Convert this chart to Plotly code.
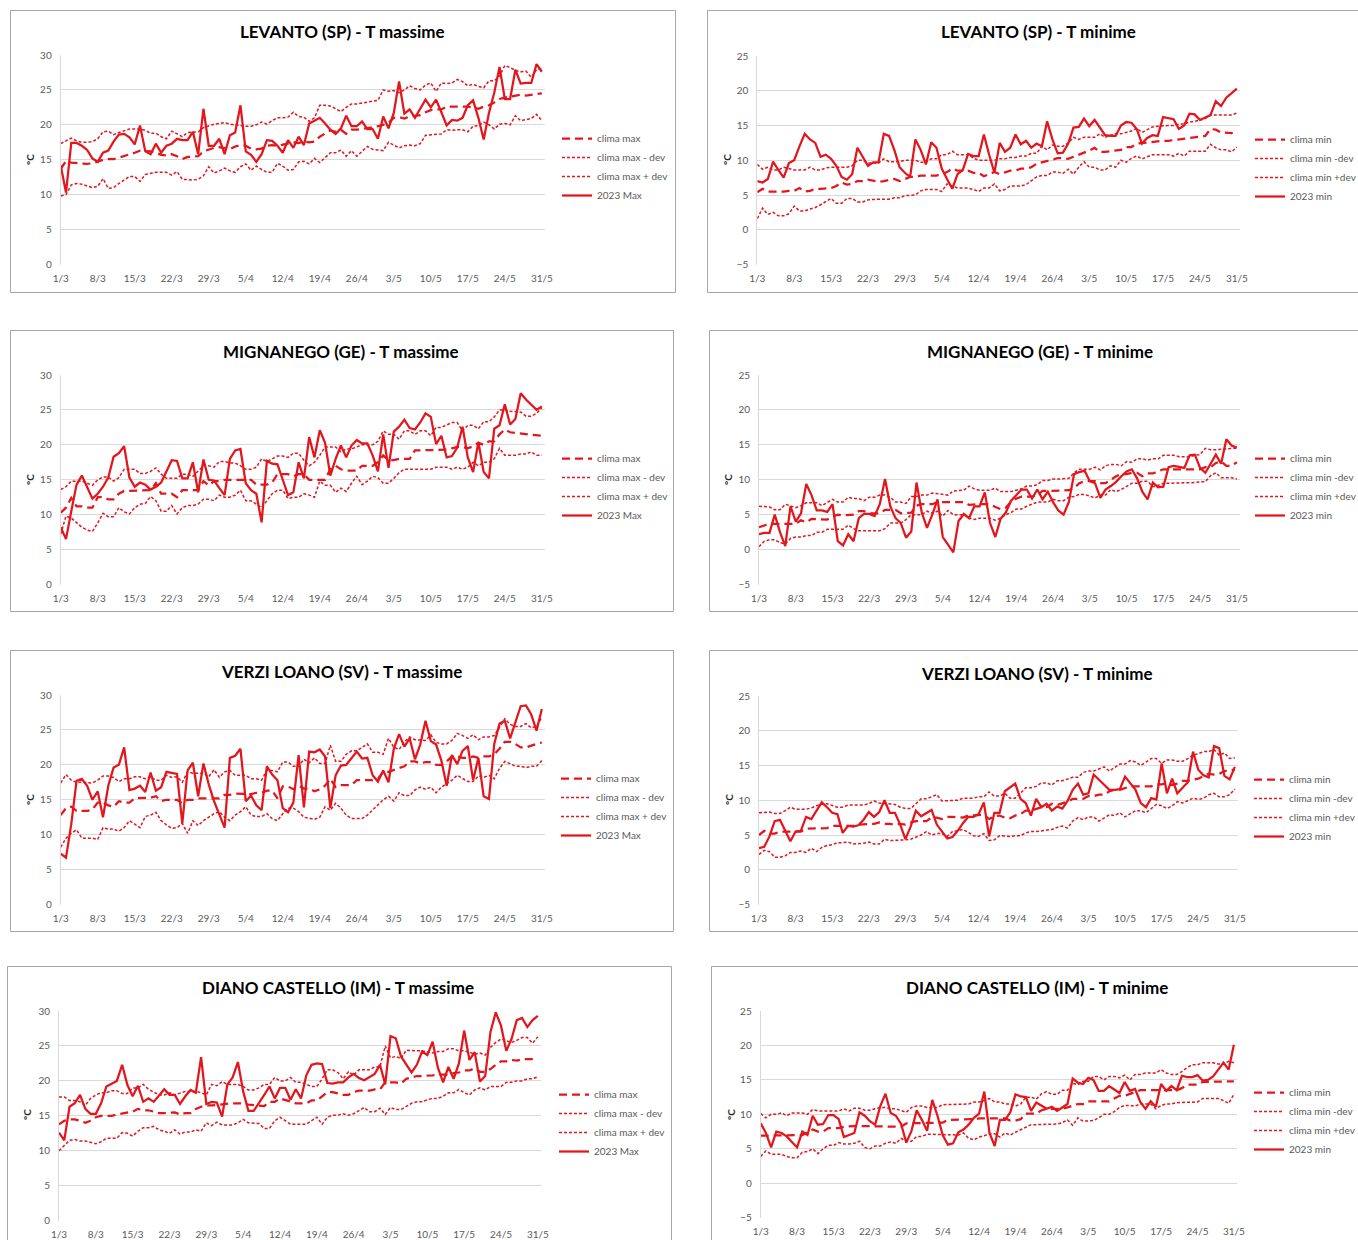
import plotly.graph_objects as go

W, H = 1358, 1240
RED = "#E3161D"
FONT = "Lato"
TICK_COLOR = "#595959"

# ---------------- categories ----------------
months = [("3", 31), ("4", 30), ("5", 31)]
dates = [f"{d}/{m}" for m, n in months for d in range(1, n + 1)]
tick_labels = dates[::7]          # 1/3, 8/3, ..., 31/5

# ---------------- LEVANTO (SP) ----------------
levanto_max_2023 = [
    14.2, 10.3, 17.4, 17.4, 17.0, 16.4, 15.2, 14.7, 16.0, 16.3,
    17.6, 18.6, 18.7, 18.2, 17.2, 19.9, 16.2, 15.8, 17.3, 16.0,
    17.0, 17.3, 18.0, 17.8, 17.8, 19.0, 15.8, 22.3, 17.0, 17.0,
    18.0, 15.8, 18.5, 18.9, 22.8, 16.2, 15.7, 14.7, 15.8, 17.8,
    17.7, 17.0, 16.0, 17.8, 16.7, 18.3, 17.1, 20.2, 20.6, 21.0,
    20.2, 19.3, 18.7, 19.5, 21.3, 19.8, 19.8, 20.5, 19.4, 19.4,
    18.0, 21.2, 19.5, 21.7, 26.2, 21.6, 22.2, 21.0, 22.3, 23.6,
    22.5, 23.6, 21.8, 19.9, 20.7, 20.6, 21.0, 22.8, 23.5, 21.0,
    17.9, 21.7, 24.6, 28.3, 23.7, 23.7, 27.9, 25.9, 26.0, 26.0,
    28.7, 27.6]
levanto_max_clima = [
    13.7, 14.8, 14.6, 14.5, 14.4, 14.4, 14.5, 14.8, 15.0, 15.1,
    15.1, 15.3, 15.5, 15.8, 16.0, 16.3, 16.3, 16.2, 16.0, 15.7,
    15.6, 15.8, 15.5, 15.1, 15.4, 15.5, 15.5, 16.2, 16.5, 16.7,
    16.8, 16.7, 16.5, 16.9, 17.1, 17.0, 16.6, 16.5, 16.6, 17.0,
    17.1, 17.0, 17.2, 17.3, 17.5, 17.4, 17.6, 17.5, 17.6, 18.3,
    18.8, 19.2, 19.0, 19.3, 18.7, 19.3, 19.3, 19.4, 19.5, 19.6,
    19.8, 20.0, 20.3, 21.0, 21.1, 20.9, 21.2, 21.3, 21.4, 21.8,
    22.1, 22.2, 22.2, 22.6, 22.6, 22.7, 22.7, 22.6, 22.5, 22.3,
    22.6, 22.8, 23.2, 23.7, 23.9, 24.0, 24.1, 24.3, 24.2, 24.3,
    24.4, 24.5]
levanto_max_plus = [
    17.3, 17.7, 18.1, 17.7, 17.5, 17.5, 17.6, 18.0, 19.0, 19.1,
    18.6, 18.9, 19.2, 19.4, 19.4, 19.4, 19.2, 18.8, 18.8, 18.3,
    18.0, 19.1, 18.7, 18.3, 18.9, 19.0, 19.0, 19.6, 19.9, 20.1,
    20.2, 20.3, 20.1, 20.0, 19.8, 19.8, 19.8, 20.0, 20.4, 20.1,
    20.6, 21.0, 21.0, 21.1, 21.8, 21.2, 21.1, 20.5, 21.0, 22.8,
    22.8, 22.7, 22.3, 21.9, 22.5, 23.0, 23.0, 23.1, 23.2, 23.4,
    23.5, 25.0, 24.8, 24.9, 24.6, 25.0, 25.6, 25.2, 25.0, 25.7,
    26.0, 24.8, 26.0, 25.9, 26.0, 26.5, 26.2, 25.6, 25.8, 25.5,
    25.3, 26.3, 26.3, 27.0, 28.5, 28.2, 27.8, 27.6, 27.7, 26.8,
    27.9, 28.0]
levanto_max_minus = [
    9.8, 10.0, 11.4, 11.6, 11.5, 11.2, 11.0, 11.2, 12.3, 10.9,
    11.0, 11.6, 12.1, 12.6, 12.6, 11.9, 12.9, 13.1, 13.2, 13.2,
    13.2, 12.8, 13.3, 12.2, 12.1, 12.1, 12.2, 12.7, 14.0, 13.1,
    13.4, 13.8, 13.4, 13.2, 14.0, 14.4, 13.5, 14.1, 13.6, 13.2,
    13.2, 14.5, 14.1, 13.5, 13.6, 14.7, 14.8, 14.4, 15.2, 14.6,
    15.3, 16.0, 16.0, 16.4, 15.5, 16.3, 15.5, 16.2, 16.9, 16.5,
    16.4, 16.3, 17.5, 17.1, 16.7, 17.0, 17.1, 17.0, 17.3, 18.5,
    18.6, 18.6, 18.7, 19.3, 19.2, 19.3, 19.3, 19.0, 19.8, 19.9,
    20.4, 20.0, 19.4, 20.1, 20.2, 20.0, 21.3, 20.6, 20.8, 20.9,
    21.5, 20.6]

levanto_min_2023 = [
    7.0, 6.8, 7.3, 9.8, 8.6, 7.5, 9.6, 10.0, 12.0, 13.8,
    13.0, 12.5, 10.5, 10.8, 10.2, 9.2, 7.6, 7.2, 8.0, 11.8,
    10.5, 9.2, 9.7, 9.7, 13.8, 13.5, 11.5, 9.0, 8.2, 7.6,
    13.0, 11.5, 9.4, 12.6, 11.8, 8.8, 7.3, 5.9, 8.0, 8.6,
    10.9, 10.6, 10.6, 13.7, 10.8, 8.2, 12.5, 11.2, 11.8, 13.7,
    12.3, 12.8, 11.8, 12.4, 12.0, 15.6, 13.0, 11.0, 11.1, 12.4,
    14.7, 14.8, 16.0, 14.9, 15.8, 14.6, 13.6, 13.5, 13.5, 15.0,
    15.5, 15.4, 14.5, 12.4, 13.2, 13.6, 13.5, 16.2, 16.1, 15.9,
    14.5, 15.0, 16.7, 16.6, 15.8, 16.2, 16.5, 18.5, 17.8, 19.0,
    19.7, 20.3]
levanto_min_clima = [
    5.4, 5.9, 5.5, 5.5, 5.4, 5.5, 5.6, 5.6, 6.0, 5.5,
    5.6, 5.9, 5.9, 5.9, 6.0, 6.3, 6.8, 6.5, 6.6, 7.0,
    7.0, 7.2, 7.0, 6.9, 7.0, 7.2, 7.3, 7.0, 7.3, 7.6,
    7.6, 7.8, 7.8, 7.8, 7.8, 8.0, 8.3, 8.8, 8.5, 8.5,
    8.5, 8.2, 8.2, 7.7, 8.0, 8.3, 8.0, 8.3, 8.5, 8.5,
    8.8, 8.8, 9.0, 9.5, 9.7, 9.9, 10.1, 10.3, 10.3, 10.2,
    10.5, 10.8, 11.0, 11.4, 11.8, 11.2, 11.2, 11.3, 11.4, 11.5,
    11.9, 11.9, 12.4, 12.5, 12.6, 12.7, 12.8, 12.8, 12.8, 12.9,
    13.0, 13.1, 13.2, 13.4, 13.5, 13.5, 14.5, 14.4, 14.0, 14.0,
    13.9, 14.4]
levanto_min_plus = [
    9.4, 8.7, 9.0, 8.6, 8.6, 9.0, 8.8, 8.6, 8.6, 8.6,
    9.0, 8.6, 8.6, 8.9, 9.0, 9.0, 9.0, 9.0, 9.2, 10.0,
    10.0, 9.6, 9.6, 9.6, 10.2, 9.8, 9.8, 9.8, 10.0, 10.0,
    10.0, 9.7, 9.7, 10.2, 10.2, 10.8, 10.8, 11.3, 10.8, 10.8,
    10.8, 10.3, 10.0, 10.0, 10.0, 10.0, 10.2, 10.2, 10.4, 10.4,
    10.6, 10.6, 11.0, 11.0, 12.0, 11.5, 12.2, 12.0, 12.0, 12.5,
    13.3, 13.0, 13.3, 13.3, 13.3, 13.8, 13.3, 13.6, 13.8, 13.8,
    14.0, 14.2, 14.6, 14.0, 14.4, 14.8, 14.9, 15.0, 15.0, 15.0,
    15.2, 15.2, 15.5, 15.6, 15.8, 16.0, 16.5, 16.5, 16.4, 16.4,
    16.5, 16.8]
levanto_min_minus = [
    1.6, 3.1, 2.2, 2.5, 2.0, 2.0, 2.3, 3.4, 2.7, 2.7,
    3.0, 3.2, 3.6, 4.1, 4.5, 3.8, 3.8, 4.5, 4.5, 4.0,
    4.0, 4.3, 4.4, 4.4, 4.4, 4.4, 4.6, 4.6, 4.9, 5.0,
    5.0, 5.6, 5.8, 5.8, 5.8, 5.5, 6.6, 6.3, 6.0, 6.0,
    6.0, 5.8, 5.5, 6.0, 6.0, 6.6, 5.6, 5.8, 6.3, 6.3,
    6.3, 6.5, 7.0, 7.6, 7.8, 7.8, 8.3, 8.3, 8.1, 8.7,
    8.0, 9.0, 9.8, 9.0, 9.0, 8.6, 8.6, 9.2, 9.0, 10.0,
    9.7, 10.3, 10.6, 10.2, 10.5, 10.8, 10.8, 10.8, 10.8, 10.6,
    11.0, 10.6, 11.3, 11.3, 11.3, 11.3, 12.3, 11.8, 11.5, 11.5,
    11.2, 11.9]

# ---------------- MIGNANEGO (GE) ----------------
mignanego_max_2023 = [
    8.2, 6.5, 10.5, 14.3, 15.6, 14.0, 12.3, 13.0, 14.0, 15.3,
    18.3, 18.8, 19.8, 15.3, 14.0, 14.6, 14.3, 13.6, 14.0, 14.6,
    16.3, 17.8, 17.7, 15.2, 15.2, 17.5, 13.2, 17.9, 15.0, 14.9,
    13.8, 12.8, 18.0, 19.2, 19.4, 14.5, 13.5, 13.0, 8.9, 17.7,
    17.3, 17.2, 15.0, 12.8, 13.2, 17.5, 15.2, 21.1, 18.2, 22.1,
    20.3, 15.6, 18.0, 19.9, 18.2, 19.9, 20.7, 20.2, 20.2, 18.5,
    16.2, 21.5, 16.7, 21.9, 22.6, 23.6, 22.4, 22.2, 23.2, 24.5,
    24.0, 20.1, 21.3, 18.2, 18.4, 19.6, 22.6, 18.2, 16.1, 20.4,
    16.1, 15.2, 22.3, 22.8, 25.8, 22.9, 23.7, 27.4, 26.5, 25.8,
    25.0, 25.5]
mignanego_max_clima = [
    10.3, 11.0, 12.4, 11.2, 11.2, 11.0, 11.0, 12.5, 12.5, 12.2,
    12.2, 13.0, 13.4, 13.4, 13.4, 13.5, 13.5, 13.5, 14.5, 13.0,
    13.0, 13.0, 12.5, 13.5, 13.5, 13.5, 13.5, 14.8, 14.2, 14.8,
    14.8, 15.0, 15.0, 15.0, 15.0, 15.0, 15.0, 14.3, 14.3, 14.3,
    14.6, 15.8, 15.8, 15.8, 15.5, 15.8, 15.8, 15.0, 15.0, 15.0,
    15.0, 16.5, 17.0, 16.5, 16.3, 16.3, 16.3, 17.0, 17.0, 17.0,
    17.5, 18.5, 17.8, 17.8, 18.0, 18.0, 18.0, 19.2, 19.2, 19.2,
    19.3, 19.3, 19.3, 19.3, 19.5, 19.7, 19.7, 19.5, 19.8, 20.3,
    20.0, 20.5, 20.5, 21.5, 22.2, 21.8, 21.7, 21.6, 21.6, 21.5,
    21.3, 21.3]
mignanego_max_plus = [
    13.6, 14.0, 14.8, 14.8, 14.8, 14.5, 14.2, 15.0, 15.4, 15.4,
    14.8, 15.3, 16.5, 16.5, 16.5, 15.9, 15.9, 16.2, 16.7, 15.8,
    15.2, 15.2, 15.2, 15.8, 15.8, 15.5, 16.3, 17.0, 17.0, 16.8,
    17.6, 17.6, 17.4, 17.4, 17.0, 16.5, 16.5, 16.8, 18.0, 17.6,
    18.0, 18.4, 18.4, 18.2, 18.8, 18.8, 17.8, 17.0, 17.5, 18.5,
    19.7, 19.7, 19.7, 19.0, 19.4, 19.4, 19.7, 20.0, 20.0, 20.0,
    20.5, 22.0, 21.5, 21.5, 20.8, 22.0, 22.0, 21.5, 22.0, 22.0,
    21.3, 22.5, 22.5, 22.8, 23.2, 23.2, 22.0, 22.8, 22.8, 22.3,
    23.3, 23.3, 24.0, 25.0, 25.0, 24.8, 24.8, 24.7, 24.1, 24.1,
    24.5, 25.3]
mignanego_max_minus = [
    7.2, 9.8, 9.5, 8.8, 8.2, 7.8, 7.6, 8.8, 10.2, 9.7,
    9.7, 11.0, 10.4, 10.1, 11.0, 11.5, 11.6, 12.6, 12.0, 10.5,
    10.5, 11.3, 10.1, 11.0, 11.3, 11.3, 11.5, 12.2, 12.2, 12.0,
    12.8, 12.5, 12.5, 12.8, 13.5, 12.0, 12.0, 11.5, 11.0, 12.0,
    13.0, 13.5, 13.5, 12.3, 12.5, 12.5, 13.0, 12.8, 12.5, 14.8,
    14.2, 14.2, 13.2, 13.8, 13.3, 14.5, 15.5, 14.3, 14.8, 15.5,
    15.3, 14.5, 14.5, 15.2, 16.0, 16.5, 16.5, 16.5, 16.5, 16.5,
    16.5, 16.8, 16.8, 16.8, 16.5, 16.8, 16.5, 16.8, 17.5, 17.0,
    17.5, 17.5, 18.0, 19.5, 18.5, 18.5, 18.5, 18.7, 18.7, 19.0,
    18.5, 18.5]

mignanego_min_2023 = [
    2.2, 2.4, 2.4, 5.0, 2.5, 0.5, 6.2, 4.0, 5.2, 9.4,
    7.8, 5.6, 5.6, 5.4, 6.5, 1.2, 0.6, 2.2, 1.2, 4.5,
    5.1, 5.1, 4.8, 6.5, 10.1, 6.2, 4.5, 3.8, 1.7, 2.6,
    9.6, 5.3, 3.1, 5.0, 7.2, 1.8, 0.7, -0.4, 4.1, 5.1,
    4.5, 6.2, 6.2, 8.2, 3.8, 1.8, 4.4, 5.3, 7.0, 7.8,
    8.6, 8.6, 7.3, 8.6, 7.2, 8.3, 6.8, 5.6, 5.0, 6.8,
    10.8, 11.1, 11.3, 9.8, 9.5, 7.4, 8.6, 9.1, 9.7, 10.5,
    11.2, 11.5, 10.2, 8.3, 7.2, 9.6, 8.9, 9.0, 11.8, 12.0,
    11.8, 11.7, 13.5, 13.6, 11.7, 11.0, 12.3, 13.6, 12.3, 15.8,
    14.9, 14.6]
mignanego_min_clima = [
    3.2, 3.5, 3.7, 3.7, 3.7, 3.6, 3.7, 3.7, 4.2, 3.9,
    4.4, 4.4, 4.3, 4.3, 4.7, 5.0, 4.9, 4.9, 5.0, 5.5,
    5.5, 5.2, 5.2, 5.2, 5.7, 5.7, 5.7, 5.2, 5.2, 5.3,
    6.3, 6.5, 6.5, 6.5, 6.8, 6.8, 6.8, 6.8, 6.8, 6.8,
    6.4, 6.5, 6.5, 6.5, 6.5, 6.1, 5.8, 6.0, 6.9, 7.3,
    7.6, 7.6, 7.6, 7.8, 8.4, 8.4, 8.4, 8.5, 8.5, 8.5,
    8.8, 9.5, 9.8, 9.8, 9.8, 9.5, 9.5, 10.0, 10.5, 10.8,
    10.8, 11.0, 11.0, 10.5, 10.9, 10.9, 11.2, 11.5, 11.5, 11.5,
    11.5, 11.4, 11.5, 11.5, 11.5, 11.8, 11.8, 12.4, 12.6, 12.0,
    12.0, 12.5]
mignanego_min_plus = [
    6.2, 6.1, 6.1, 5.7, 5.7, 6.5, 6.2, 6.0, 6.3, 6.7,
    6.7, 6.7, 6.3, 6.7, 7.2, 6.8, 6.8, 7.5, 7.3, 7.3,
    7.0, 7.5, 7.5, 7.8, 7.8, 7.5, 6.8, 6.8, 6.6, 7.6,
    7.6, 7.8, 7.8, 8.1, 8.0, 8.0, 7.8, 8.4, 8.4, 8.5,
    9.1, 8.7, 8.5, 8.5, 8.5, 8.8, 8.3, 8.3, 8.3, 8.5,
    8.7, 9.1, 9.1, 9.3, 9.9, 9.9, 10.1, 10.1, 10.1, 10.2,
    11.0, 11.5, 11.5, 11.5, 11.8, 11.4, 12.0, 12.2, 12.2, 12.0,
    12.6, 12.5, 13.0, 13.0, 12.8, 13.0, 13.0, 13.5, 13.5, 13.5,
    13.3, 13.3, 13.3, 13.5, 13.6, 14.5, 14.3, 14.3, 14.3, 14.4,
    14.5, 14.5]
mignanego_min_minus = [
    0.4, 1.2, 1.4, 1.4, 1.0, 0.8, 1.6, 1.8, 1.8, 2.0,
    2.0, 2.5, 2.5, 2.9, 2.9, 2.9, 2.9, 3.5, 3.0, 2.7,
    2.7, 2.7, 2.7, 2.7, 3.0, 3.8, 3.8, 3.8, 4.3, 5.0,
    5.0, 5.0, 5.5, 5.2, 5.5, 4.8, 5.6, 5.0, 5.0, 5.0,
    4.5, 4.3, 4.5, 4.5, 4.5, 4.2, 4.5, 5.0, 5.3, 5.8,
    5.8, 6.2, 6.5, 6.8, 6.8, 6.8, 7.2, 7.0, 7.0, 7.5,
    7.6, 7.9, 7.9, 7.6, 7.4, 7.8, 7.8, 8.6, 8.3, 8.6,
    9.0, 9.5, 9.5, 9.8, 9.8, 9.0, 9.2, 9.5, 9.5, 9.5,
    9.5, 9.6, 9.6, 9.6, 9.7, 9.7, 10.6, 11.0, 10.3, 10.3,
    10.3, 10.1]

# ---------------- VERZI LOANO (SV) ----------------
verzi_max_2023 = [
    7.3, 6.7, 11.5, 17.7, 18.0, 17.0, 15.0, 16.2, 12.5, 17.0,
    19.6, 20.0, 22.5, 16.4, 16.6, 17.0, 16.1, 18.9, 16.3, 16.8,
    19.0, 18.9, 18.7, 11.6, 19.2, 20.3, 15.5, 20.2, 17.2, 14.8,
    12.8, 11.0, 21.0, 21.3, 22.3, 14.8, 15.6, 14.2, 13.5, 19.8,
    18.6, 17.8, 13.8, 13.2, 14.6, 21.4, 13.9, 21.9, 21.8, 22.2,
    21.2, 13.8, 18.5, 19.9, 20.0, 21.0, 21.9, 20.9, 21.0, 18.5,
    17.6, 19.2, 17.5, 22.3, 24.4, 22.6, 23.8, 20.8, 22.9, 26.3,
    23.4, 22.9, 20.6, 17.0, 21.4, 20.1, 22.0, 22.7, 17.8, 21.0,
    15.5, 15.1, 23.0, 25.9, 26.3, 23.8, 26.0, 28.4, 28.5, 27.2,
    24.9, 28.0]
verzi_max_clima = [
    12.8, 13.8, 14.0, 13.4, 13.4, 13.4, 13.6, 14.6, 14.6, 14.2,
    14.0, 14.8, 14.6, 14.6, 15.2, 15.2, 15.3, 15.3, 15.5, 14.8,
    15.0, 15.0, 15.0, 14.5, 15.0, 15.0, 15.2, 15.2, 15.2, 15.2,
    15.2, 15.7, 15.7, 15.9, 15.9, 15.9, 15.8, 16.0, 16.0, 16.3,
    16.3, 15.2, 16.9, 16.9, 16.5, 17.0, 16.6, 16.6, 16.2, 16.5,
    17.0, 18.0, 16.8, 17.1, 17.1, 17.1, 17.8, 17.8, 17.8, 17.8,
    18.0, 19.0, 19.0, 19.3, 19.5, 19.8, 20.5, 20.5, 20.2, 20.4,
    20.4, 20.0, 20.0, 20.5, 21.2, 21.2, 21.0, 21.0, 21.2, 21.0,
    21.2, 21.2, 21.5, 22.3, 23.3, 23.3, 23.0, 22.5, 22.5, 22.8,
    23.0, 23.2]
verzi_max_plus = [
    17.4, 18.6, 17.8, 17.5, 17.5, 17.5, 17.4, 17.8, 18.4, 18.4,
    18.2, 17.6, 18.0, 18.0, 18.3, 18.3, 18.0, 18.3, 17.8, 17.8,
    18.5, 18.2, 18.3, 17.5, 19.0, 18.8, 18.8, 18.8, 18.3, 19.3,
    18.2, 19.0, 19.2, 18.5, 18.5, 18.5, 18.0, 18.0, 17.8, 19.2,
    19.2, 19.0, 20.4, 20.4, 19.8, 19.8, 20.8, 20.3, 21.0, 20.2,
    20.2, 22.8, 20.5, 20.5, 21.5, 22.0, 22.0, 22.5, 23.0, 21.8,
    21.8, 21.5, 23.8, 22.5, 22.2, 23.3, 24.0, 23.6, 23.5, 23.5,
    24.3, 23.2, 23.0, 23.0, 23.5, 24.5, 24.2, 23.8, 24.3, 23.6,
    24.0, 24.0, 24.2, 25.5, 26.6, 25.8, 25.5, 25.5, 25.9, 25.3,
    25.5, 26.8]
verzi_max_minus = [
    8.2, 9.5, 10.2, 10.7, 9.5, 9.5, 9.5, 9.3, 11.0, 10.8,
    10.8, 10.5, 11.0, 12.0, 11.5, 11.0, 12.6, 12.8, 13.2, 12.0,
    11.4, 10.9, 11.0, 11.6, 10.2, 12.0, 11.3, 12.0, 12.5, 13.0,
    13.3, 12.5, 12.0, 12.8, 13.3, 14.0, 12.8, 12.6, 12.6, 13.0,
    12.3, 12.0, 13.0, 13.8, 13.8, 13.3, 12.5, 12.3, 12.2, 12.5,
    14.0, 13.5, 14.5, 13.8, 12.8, 12.3, 12.3, 12.3, 12.8, 13.5,
    14.3, 15.0, 15.5, 14.8, 16.0, 15.6, 15.6, 16.4, 16.8, 16.5,
    16.8, 16.0, 16.8, 17.3, 17.8, 18.5, 18.0, 17.6, 17.6, 18.4,
    18.2, 18.5, 18.0, 19.5, 20.5, 20.2, 19.8, 19.8, 19.6, 19.8,
    19.8, 20.6]

verzi_min_2023 = [
    3.1, 3.3, 4.8, 7.0, 7.2, 5.6, 4.1, 5.5, 5.6, 7.6,
    7.3, 8.5, 9.7, 9.0, 8.2, 8.0, 5.3, 6.3, 6.2, 6.4,
    7.2, 8.3, 7.6, 8.3, 10.0, 8.2, 8.2, 6.5, 4.4, 6.2,
    8.5, 7.7, 8.1, 8.6, 6.5, 5.5, 4.5, 4.7, 5.6, 6.7,
    7.6, 7.6, 8.0, 9.7, 4.8, 8.2, 8.2, 11.3, 11.8, 12.4,
    10.2, 9.6, 7.8, 10.2, 9.0, 9.5, 8.5, 9.1, 8.8, 9.9,
    11.5, 12.4, 10.8, 11.0, 13.7, 13.0, 12.3, 11.5, 11.5, 11.6,
    13.4, 12.5, 11.5, 9.6, 9.0, 10.3, 10.1, 15.3, 11.0, 13.1,
    11.0, 11.8, 12.6, 17.0, 14.4, 13.6, 13.3, 17.8, 17.5, 13.5,
    13.0, 14.8]
verzi_min_clima = [
    5.0, 5.6, 5.2, 5.2, 5.5, 5.5, 5.6, 5.5, 5.5, 5.9,
    5.9, 6.0, 6.0, 6.0, 6.3, 6.3, 6.4, 6.4, 6.3, 6.5,
    6.5, 6.6, 6.6, 6.8, 6.6, 6.6, 6.5, 6.6, 6.5, 6.8,
    7.0, 7.0, 7.0, 7.5, 7.5, 7.3, 7.6, 7.6, 7.6, 7.5,
    7.8, 7.8, 7.8, 7.9, 7.3, 7.7, 7.8, 7.5, 7.4, 7.8,
    8.0, 8.5, 8.5, 8.8, 9.0, 9.0, 9.5, 9.3, 9.5, 9.8,
    10.2, 10.2, 10.2, 10.6, 10.6, 10.8, 10.8, 11.3, 11.5, 11.5,
    11.8, 12.0, 12.0, 12.0, 11.9, 12.0, 12.3, 12.3, 12.5, 12.2,
    12.4, 12.8, 12.8, 13.0, 13.1, 13.5, 13.8, 13.7, 13.8, 14.2,
    14.3, 14.4]
verzi_min_plus = [
    8.2, 8.3, 8.3, 8.1, 8.1, 8.5, 9.0, 8.7, 8.7, 8.7,
    8.9, 9.2, 9.5, 9.5, 9.2, 9.0, 9.0, 9.3, 9.3, 9.3,
    9.3, 9.5, 9.9, 9.6, 9.5, 9.4, 9.4, 9.0, 8.8, 8.8,
    9.5, 10.2, 10.2, 10.5, 10.8, 9.9, 9.9, 10.0, 10.0, 10.3,
    10.3, 10.3, 10.5, 10.5, 11.2, 10.6, 10.6, 11.0, 10.3, 10.3,
    11.0, 11.8, 11.8, 12.0, 12.5, 12.5, 12.2, 12.8, 12.8, 13.0,
    13.3, 13.3, 14.0, 14.2, 14.2, 14.5, 14.8, 14.2, 14.7, 15.2,
    15.2, 15.7, 15.5, 15.0, 15.5, 16.0, 16.0, 15.3, 15.8, 15.8,
    15.6, 15.6, 16.0, 16.5, 16.7, 17.0, 17.0, 17.3, 16.5, 16.8,
    16.0, 16.1]
verzi_min_minus = [
    2.2, 2.8, 2.6, 1.8, 1.8, 2.0, 2.5, 2.5, 2.7, 2.5,
    3.1, 2.6, 3.2, 3.5, 3.6, 3.9, 3.9, 4.0, 3.7, 3.7,
    3.8, 4.0, 3.7, 3.7, 4.4, 4.2, 4.2, 4.2, 4.3, 4.4,
    4.7, 5.0, 5.5, 5.0, 5.2, 5.2, 4.8, 5.5, 5.6, 5.8,
    5.4, 4.9, 4.8, 5.2, 4.2, 4.3, 4.9, 4.8, 4.8, 4.9,
    4.9, 5.3, 5.5, 5.5, 5.6, 5.8, 5.8, 6.1, 6.3, 6.0,
    7.0, 7.5, 7.2, 7.6, 7.6, 7.0, 7.5, 7.9, 7.8, 8.2,
    7.6, 8.0, 8.5, 8.5, 8.2, 8.8, 9.4, 9.2, 8.8, 9.2,
    9.8, 9.6, 10.0, 10.3, 10.1, 10.3, 10.8, 11.0, 10.5, 10.5,
    10.8, 11.6]

# ---------------- DIANO CASTELLO (IM) ----------------
diano_max_2023 = [
    12.6, 11.5, 16.3, 16.8, 18.0, 16.0, 15.3, 15.3, 16.8, 19.2,
    19.6, 20.0, 22.3, 19.4, 17.8, 19.3, 17.0, 17.5, 17.0, 17.9,
    18.8, 18.0, 18.0, 16.7, 17.8, 18.7, 18.3, 23.4, 16.7, 17.0,
    16.9, 14.9, 19.5, 20.5, 22.7, 18.5, 15.7, 15.7, 16.8, 18.0,
    19.2, 17.5, 19.0, 19.0, 17.3, 18.8, 17.5, 20.8, 22.3, 22.5,
    22.4, 19.7, 19.6, 19.8, 19.8, 20.5, 21.0, 20.4, 20.1, 20.5,
    21.0, 22.3, 19.5, 26.4, 26.1, 23.5, 22.4, 21.2, 22.3, 24.2,
    23.7, 25.6, 21.9, 19.8, 22.0, 20.3, 22.5, 27.2, 23.0, 24.1,
    19.9, 20.7, 27.0, 29.8, 27.9, 24.3, 26.0, 28.7, 29.0, 27.7,
    28.7, 29.3]
diano_max_clima = [
    13.8, 14.3, 14.5, 14.5, 14.3, 14.0, 14.3, 14.8, 15.0, 15.0,
    15.0, 15.2, 15.3, 15.5, 15.6, 16.0, 15.8, 15.8, 15.6, 15.4,
    15.4, 15.4, 15.5, 15.2, 15.4, 15.4, 16.0, 16.3, 16.5, 16.5,
    16.6, 16.6, 16.8, 16.8, 16.8, 16.8, 16.6, 16.5, 16.5, 16.4,
    17.0, 17.0, 17.5, 17.3, 17.0, 16.8, 16.8, 16.8, 17.2, 17.2,
    17.8, 18.4, 18.4, 18.2, 18.0, 18.0, 18.4, 18.6, 18.6, 18.6,
    18.8, 18.8, 19.8, 19.8, 19.8, 19.6, 20.3, 20.5, 20.7, 20.7,
    20.7, 20.8, 20.9, 20.9, 20.9, 21.1, 21.2, 21.5, 21.5, 21.8,
    21.3, 21.3, 21.7, 22.3, 22.8, 22.8, 23.0, 22.9, 23.1, 23.1,
    23.1, 23.1]
diano_max_plus = [
    17.7, 17.7, 17.2, 17.2, 17.0, 16.5, 17.5, 18.0, 18.3, 18.3,
    18.6, 18.6, 18.2, 18.2, 19.0, 19.0, 19.5, 18.8, 18.4, 18.0,
    18.0, 18.3, 18.0, 18.2, 18.5, 18.5, 18.5, 18.3, 18.0, 19.5,
    19.3, 19.9, 19.5, 19.5, 19.5, 19.2, 18.7, 18.7, 19.0, 19.5,
    19.5, 20.5, 20.0, 20.0, 20.5, 19.8, 19.8, 19.5, 19.2, 19.2,
    20.3, 21.6, 21.6, 21.2, 20.3, 21.3, 20.8, 21.6, 21.6, 21.6,
    22.0, 22.0, 25.0, 23.3, 23.5, 23.2, 24.4, 24.3, 24.3, 24.3,
    24.1, 24.0, 24.2, 24.2, 24.6, 24.6, 24.3, 24.3, 24.1, 23.8,
    24.0, 23.7, 24.8, 25.5, 26.0, 25.8, 25.5, 25.8, 26.2, 26.2,
    25.4, 26.3]
diano_max_minus = [
    10.0, 10.8, 11.5, 11.6, 11.4, 11.4, 11.2, 11.0, 11.3, 11.8,
    11.8, 11.8, 12.6, 12.5, 12.1, 12.8, 13.3, 13.3, 13.5, 13.0,
    12.8, 12.5, 13.0, 12.4, 12.7, 12.7, 13.0, 12.8, 14.0, 13.6,
    14.1, 13.7, 13.7, 13.7, 14.0, 14.5, 14.0, 14.0, 13.9, 13.2,
    13.2, 14.3, 14.8, 14.3, 13.8, 13.8, 13.8, 13.8, 14.3, 14.8,
    13.8, 14.8, 15.1, 15.1, 15.3, 15.1, 15.3, 15.8, 16.2, 15.6,
    15.6, 16.1, 15.2, 16.2, 15.9, 15.9, 16.4, 16.8, 17.0, 17.0,
    17.3, 17.5, 17.5, 17.8, 18.3, 18.3, 18.8, 18.3, 18.0, 18.7,
    19.0, 18.7, 19.2, 19.2, 19.2, 19.8, 19.8, 20.0, 20.0, 20.3,
    20.3, 20.6]

diano_min_2023 = [
    8.7, 7.3, 5.2, 7.5, 7.3, 6.8, 6.0, 5.2, 7.5, 7.0,
    9.8, 8.5, 8.6, 9.9, 9.9, 9.3, 6.7, 7.0, 7.3, 10.3,
    9.8, 9.0, 8.5, 11.2, 13.0, 10.2, 9.8, 8.6, 5.9, 7.6,
    10.6, 9.2, 7.6, 12.1, 9.8, 7.0, 5.6, 5.8, 7.4, 7.8,
    8.5, 9.5, 10.1, 13.3, 7.3, 5.4, 9.2, 9.2, 10.3, 12.9,
    12.6, 12.5, 10.5, 11.7, 11.2, 10.8, 11.1, 10.5, 11.0, 11.5,
    15.2, 14.6, 14.4, 15.3, 15.0, 13.4, 13.4, 14.1, 13.6, 13.1,
    14.7, 13.4, 13.7, 11.8, 10.8, 11.9, 11.1, 14.4, 13.4, 14.1,
    13.5, 15.6, 15.4, 15.4, 15.7, 14.9, 15.0, 15.5, 16.5, 17.5,
    16.5, 20.1]
diano_min_clima = [
    6.9, 6.9, 7.0, 7.0, 7.0, 7.0, 7.0, 7.0, 7.0, 7.4,
    7.8, 7.5, 7.5, 8.0, 8.0, 8.0, 8.2, 8.3, 8.3, 8.3,
    8.3, 8.3, 8.3, 8.3, 8.3, 8.3, 8.2, 8.2, 8.7, 8.7,
    8.7, 8.7, 8.8, 8.8, 8.8, 8.8, 9.2, 9.2, 9.2, 9.2,
    9.3, 9.3, 9.4, 9.4, 9.4, 9.4, 9.4, 9.4, 9.1, 9.1,
    9.3, 10.1, 10.1, 10.1, 10.6, 10.8, 10.8, 10.8, 10.8, 11.0,
    11.2, 11.5, 11.5, 11.9, 11.9, 11.9, 11.9, 11.9, 12.3, 12.7,
    12.7, 13.0, 13.2, 13.5, 13.5, 13.5, 13.5, 13.5, 13.5, 13.5,
    13.5, 13.8, 14.3, 14.3, 14.3, 14.7, 14.7, 14.8, 14.8, 14.8,
    14.8, 14.8]
diano_min_plus = [
    10.1, 9.5, 10.0, 10.0, 10.2, 9.8, 10.2, 10.2, 10.2, 10.0,
    10.7, 10.5, 10.5, 10.5, 10.5, 10.5, 10.8, 10.5, 10.9, 10.9,
    10.6, 10.6, 10.8, 11.0, 11.0, 10.8, 10.8, 10.5, 10.3, 11.0,
    11.2, 11.2, 11.0, 11.0, 11.0, 11.4, 11.4, 11.4, 11.5, 11.5,
    11.5, 11.8, 11.8, 12.0, 12.3, 11.8, 11.8, 11.5, 11.5, 11.2,
    11.5, 12.5, 12.5, 12.2, 13.0, 13.3, 12.9, 12.9, 13.5, 13.5,
    14.5, 14.3, 14.8, 14.8, 15.5, 15.5, 15.0, 15.5, 15.5, 15.3,
    15.7, 15.0, 15.8, 15.8, 16.0, 16.0, 16.0, 16.5, 16.0, 15.8,
    15.8, 16.2, 16.8, 17.2, 17.2, 17.5, 17.5, 17.5, 17.3, 17.3,
    17.7, 17.5]
diano_min_minus = [
    3.9, 4.7, 4.2, 4.2, 4.2, 3.9, 3.7, 3.7, 4.5, 4.6,
    5.0, 4.3, 5.0, 5.5, 5.5, 5.9, 5.7, 5.7, 5.8, 6.1,
    5.2, 5.0, 5.4, 5.4, 5.8, 6.0, 5.8, 6.5, 6.1, 6.1,
    6.8, 6.8, 7.1, 7.1, 7.1, 7.1, 7.1, 7.1, 7.0, 7.3,
    6.5, 6.3, 6.7, 6.9, 7.2, 7.2, 6.7, 7.3, 7.0, 7.4,
    7.8, 8.2, 8.5, 8.5, 8.5, 8.6, 8.6, 8.6, 8.8, 9.2,
    8.4, 9.5, 9.0, 9.0, 9.1, 9.5, 10.0, 10.0, 10.4, 11.0,
    11.3, 11.3, 11.2, 11.5, 11.5, 11.5, 10.8, 11.3, 11.5, 11.5,
    11.7, 11.7, 11.7, 11.8, 11.8, 12.3, 12.3, 12.3, 12.3, 12.0,
    11.6, 12.9]

max_labels = ["clima max", "clima max - dev", "clima max + dev", "2023 Max"]
min_labels = ["clima min", "clima min -dev", "clima min +dev", "2023 min"]

# ---------------- layout geometry (pixels) ----------------
panels = [
    dict(title="LEVANTO (SP) - T massime", labels=max_labels, yr=[0, 30],
         series=[levanto_max_clima, levanto_max_minus, levanto_max_plus, levanto_max_2023],
         box=(10, 10, 675, 292), plot=(60.7, 55, 545, 264.5), leg=(557, 124), ylab=(30, 160), tt=(342, 31)),
    dict(title="LEVANTO (SP) - T minime", labels=min_labels, yr=[-5, 25],
         series=[levanto_min_clima, levanto_min_minus, levanto_min_plus, levanto_min_2023],
         box=(707, 10, 1362, 292), plot=(757.3, 56, 1240, 264.5), leg=(1250, 125), ylab=(727, 160), tt=(1038, 32)),
    dict(title="MIGNANEGO (GE) - T massime", labels=max_labels, yr=[0, 30],
         series=[mignanego_max_clima, mignanego_max_minus, mignanego_max_plus, mignanego_max_2023],
         box=(10, 330, 673, 611), plot=(60.7, 375, 545, 584.5), leg=(557, 444), ylab=(30, 480), tt=(341, 351)),
    dict(title="MIGNANEGO (GE) - T minime", labels=min_labels, yr=[-5, 25],
         series=[mignanego_min_clima, mignanego_min_minus, mignanego_min_plus, mignanego_min_2023],
         box=(709, 330, 1362, 611), plot=(759, 375, 1240, 584.5), leg=(1250, 444), ylab=(728, 480), tt=(1040, 351)),
    dict(title="VERZI LOANO (SV) - T massime", labels=max_labels, yr=[0, 30],
         series=[verzi_max_clima, verzi_max_minus, verzi_max_plus, verzi_max_2023],
         box=(10, 650, 673, 931), plot=(60.7, 695, 545, 904.5), leg=(556, 764), ylab=(30, 800), tt=(341, 671)),
    dict(title="VERZI LOANO (SV) - T minime", labels=min_labels, yr=[-5, 25],
         series=[verzi_min_clima, verzi_min_minus, verzi_min_plus, verzi_min_2023],
         box=(709, 650, 1362, 931), plot=(759, 696, 1238, 904.5), leg=(1249, 765), ylab=(729, 800), tt=(1037, 673)),
    dict(title="DIANO CASTELLO (IM) - T massime", labels=max_labels, yr=[0, 30],
         series=[diano_max_clima, diano_max_minus, diano_max_plus, diano_max_2023],
         box=(7, 966, 671, 1250), plot=(59, 1011, 541, 1220.7), leg=(554, 1080), ylab=(27, 1115), tt=(338, 987)),
    dict(title="DIANO CASTELLO (IM) - T minime", labels=min_labels, yr=[-5, 25],
         series=[diano_min_clima, diano_min_minus, diano_min_plus, diano_min_2023],
         box=(711, 966, 1362, 1250), plot=(760.7, 1011, 1237, 1217.7), leg=(1249, 1078), ylab=(731, 1115), tt=(1037, 987)),
]

styles = [
    dict(width=2.25, dash="8px,5px"),
    dict(width=1.5, dash="3px,2px"),
    dict(width=1.5, dash="3px,2px"),
    dict(width=2.25, dash="solid"),
]

fig = go.Figure()
shapes, annotations, layout = [], [], {}

for k, p in enumerate(panels):
    n = k + 1
    sfx = "" if n == 1 else str(n)
    leg_name = "legend" if n == 1 else f"legend{n}"
    x0, y0, x1, y1 = p["plot"]
    for s, (vals, lab, st) in enumerate(zip(p["series"], p["labels"], styles)):
        fig.add_trace(go.Scatter(
            x=dates, y=vals, name=lab, mode="lines",
            line=dict(color=RED, width=st["width"], dash=st["dash"]),
            xaxis=f"x{sfx}", yaxis=f"y{sfx}", legend=leg_name,
            hoverinfo="skip"))
    layout[f"xaxis{sfx}"] = dict(
        domain=[x0 / W, x1 / W], anchor=f"y{sfx}", type="category",
        range=[0, 91.6], tickmode="array", tickvals=tick_labels, ticktext=tick_labels,
        showgrid=False, zeroline=False, showline=False, ticks="", automargin=False,
        tickfont=dict(family=FONT, size=10, color=TICK_COLOR), ticklabelstandoff=6,
        fixedrange=True)
    layout[f"yaxis{sfx}"] = dict(
        domain=[1 - y1 / H, 1 - y0 / H], anchor=f"x{sfx}",
        range=p["yr"], dtick=5, tick0=0, showgrid=True, gridcolor="#D9D9D9", gridwidth=1,
        zeroline=False, showline=True, linecolor="#D9D9D9", linewidth=1, ticks="",
        automargin=False,
        tickfont=dict(family=FONT, size=10, color=TICK_COLOR), ticklabelstandoff=6,
        fixedrange=True)
    lx, ly = p["leg"]
    layout[leg_name] = dict(
        x=lx / W, y=1 - ly / H, xanchor="left", yanchor="top",
        bgcolor="rgba(0,0,0,0)", borderwidth=0,
        font=dict(family=FONT, size=10, color=TICK_COLOR), traceorder="normal")
    bx0, by0, bx1, by1 = p["box"]
    shapes.append(dict(type="rect", xref="paper", yref="paper",
                       x0=(bx0 + 0.5) / W, x1=(bx1 + 0.5) / W,
                       y0=1 - (by1 + 0.5) / H, y1=1 - (by0 + 0.5) / H,
                       line=dict(color="#A6A6A6", width=1), fillcolor="rgba(0,0,0,0)"))
    tx, ty = p["tt"]
    annotations.append(dict(text=f"<b>{p['title']}</b>", x=tx / W, y=1 - ty / H,
                            xref="paper", yref="paper", xanchor="center", yanchor="middle",
                            showarrow=False, font=dict(family=FONT, size=17, color="#000000")))
    ax, ay = p["ylab"]
    annotations.append(dict(text="<b>°C</b>", x=ax / W, y=1 - ay / H, textangle=-90,
                            xref="paper", yref="paper", xanchor="center", yanchor="middle",
                            showarrow=False, font=dict(family=FONT, size=10, color="#262626")))

fig.update_layout(
    width=W, height=H, margin=dict(l=0, r=0, t=0, b=0, pad=0, autoexpand=False),
    paper_bgcolor="white", plot_bgcolor="white",
    font=dict(family=FONT, size=10, color=TICK_COLOR),
    shapes=shapes, annotations=annotations, showlegend=True,
    **layout)

fig.write_html("out.html",
               config={"displayModeBar": False, "staticPlot": False},
               post_script="document.body.style.margin='0px';document.body.style.overflow='hidden';")
